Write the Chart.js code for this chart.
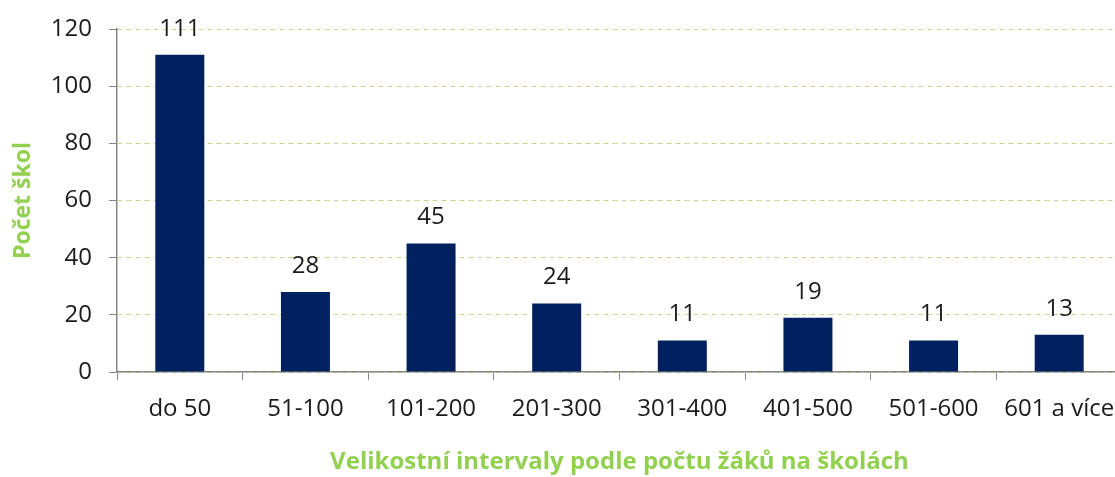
<!DOCTYPE html>
<html>
<head>
<meta charset="utf-8">
<script src="https://cdn.jsdelivr.net/npm/chart.js@4"></script>
<style>
  html, body { margin: 0; padding: 0; background: #fff; overflow: hidden; }
  #wrap { width: 1122px; height: 477px; }
</style>
</head>
<body>
<div id="wrap"><canvas id="schoolsChart"></canvas></div>
<script>
const categories = ['do 50', '51-100', '101-200', '201-300', '301-400', '401-500', '501-600', '601 a více'];
const schoolCounts = [111, 28, 45, 24, 11, 19, 11, 13];
const yTicks = [0, 20, 40, 60, 80, 100, 120];

const green = '#92d050';
const navy = '#002060';
const textColor = '#1a1a1a';
const fontFamily = "'Open Sans', sans-serif";

// value labels above each bar
const barLabels = {
  id: 'barLabels',
  afterDatasetsDraw(chart) {
    const { ctx } = chart;
    const meta = chart.getDatasetMeta(0);
    ctx.save();
    ctx.font = `24px ${fontFamily}`;
    ctx.fillStyle = textColor;
    ctx.textAlign = 'center';
    ctx.textBaseline = 'middle';
    meta.data.forEach((bar, i) => {
      ctx.fillText(schoolCounts[i], bar.x, bar.y - 26);
    });
    ctx.restore();
  },
};

new Chart(document.getElementById('schoolsChart'), {
  type: 'bar',
  data: {
    labels: categories,
    datasets: [
      {
        data: schoolCounts,
        backgroundColor: navy,
        barPercentage: 0.39,
        categoryPercentage: 1,
      },
    ],
  },
  options: {
    responsive: true,
    maintainAspectRatio: false,
    animation: false,
    layout: { padding: { top: 29, right: 0, bottom: 0, left: 0 } },
    plugins: { legend: { display: false }, tooltip: { enabled: false } },
    scales: {
      x: {
        grid: {
          display: true,
          drawOnChartArea: false,
          offset: true,
          tickLength: 8,
          color: '#868686',
        },
        border: { color: '#868686', width: 1.5 },
        ticks: {
          color: textColor,
          font: { family: fontFamily, size: 24 },
          padding: 15,
          maxRotation: 0,
        },
        title: {
          display: true,
          text: 'Velikostní intervaly podle počtu žáků na školách',
          color: green,
          font: { family: fontFamily, size: 24, weight: 'bold' },
          padding: { top: 14, bottom: 0 },
        },
        afterFit: (scale) => {
          scale.height = 105;
          scale.paddingLeft = 0;
          scale.paddingRight = 0;
        },
      },
      y: {
        min: 0,
        max: 120,
        afterBuildTicks: (scale) => { scale.ticks = yTicks.map((v) => ({ value: v })); },
        grid: {
          color: '#c4d88a',
          tickColor: '#868686',
          tickLength: 8,
          drawTicks: true,
        },
        border: { color: '#868686', width: 1.5, dash: [5, 4] },
        ticks: {
          color: textColor,
          font: { family: fontFamily, size: 24 },
          padding: 17,
        },
        title: {
          display: true,
          text: 'Počet škol',
          color: green,
          font: { family: fontFamily, size: 23, weight: 'bold' },
          padding: { top: 10, bottom: 0 },
        },
        afterFit: (scale) => {
          scale.width = 117;
          scale.paddingTop = 0;
          scale.paddingBottom = 0;
        },
      },
    },
  },
  plugins: [barLabels],
});
</script>
</body>
</html>
